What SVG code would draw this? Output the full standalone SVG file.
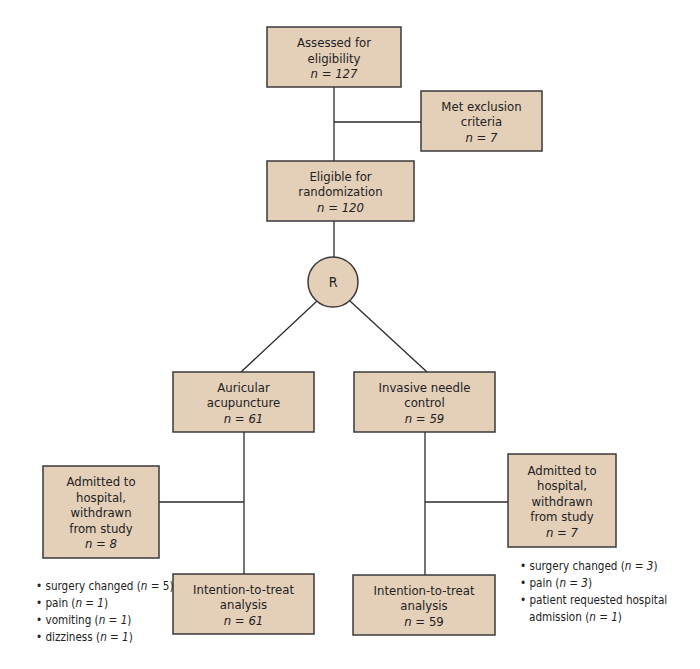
<svg xmlns="http://www.w3.org/2000/svg" width="700" height="669" viewBox="0 0 700 669">
<style>
.box{fill:#e4cfb9;stroke:#3a3a3a;stroke-width:1.5}
.ln{stroke:#2a2a2a;stroke-width:1.3;fill:none}
text{font-family:"DejaVu Sans Condensed","DejaVu Sans",sans-serif;font-size:13px;fill:#222}
.c{text-anchor:middle}
.i{font-style:italic}
.b{font-size:11.6px}
</style>
<rect width="700" height="669" fill="#fff"/>
<g id="connectors">
<line class="ln" x1="334" y1="87" x2="334" y2="161"/>
<line class="ln" x1="334" y1="122" x2="421" y2="122"/>
<line class="ln" x1="334" y1="221" x2="334" y2="257"/>
<line class="ln" x1="317" y1="301" x2="241" y2="372"/>
<line class="ln" x1="350" y1="301" x2="427" y2="372"/>
<line class="ln" x1="244" y1="432" x2="244" y2="574"/>
<line class="ln" x1="159" y1="502" x2="244" y2="502"/>
<line class="ln" x1="425" y1="432" x2="425" y2="575"/>
<line class="ln" x1="425" y1="502" x2="508" y2="502"/>
</g>
<g id="assessed">
<rect class="box" x="267" y="27" width="134" height="60"/>
<text class="c" x="334" y="47">Assessed for</text>
<text class="c" x="334" y="62.5">eligibility</text>
<text class="c i" x="334" y="78">n = 127</text>
</g>
<g id="exclusion">
<rect class="box" x="421" y="91" width="121" height="60"/>
<text class="c" x="481.5" y="110.5">Met exclusion</text>
<text class="c" x="481.5" y="126">criteria</text>
<text class="c i" x="481.5" y="141.5">n = 7</text>
</g>
<g id="eligible">
<rect class="box" x="267" y="161" width="147" height="60"/>
<text class="c" x="340.5" y="180.5">Eligible for</text>
<text class="c" x="340.5" y="196">randomization</text>
<text class="c i" x="340.5" y="211.5">n = 120</text>
</g>
<g id="random">
<circle class="box" cx="333" cy="282" r="25"/>
<text class="c" x="333" y="287" style="font-size:14px">R</text>
</g>
<g id="auricular">
<rect class="box" x="173" y="372" width="141" height="60"/>
<text class="c" x="243.5" y="391.5">Auricular</text>
<text class="c" x="243.5" y="407">acupuncture</text>
<text class="c i" x="243.5" y="422.5">n = 61</text>
</g>
<g id="invasive">
<rect class="box" x="354" y="372" width="141" height="60"/>
<text class="c" x="424.5" y="391.5">Invasive needle</text>
<text class="c" x="424.5" y="407">control</text>
<text class="c i" x="424.5" y="422.5">n = 59</text>
</g>
<g id="admitted-left">
<rect class="box" x="43" y="466" width="116" height="92"/>
<text class="c" x="101" y="486">Admitted to</text>
<text class="c" x="101" y="501.5">hospital,</text>
<text class="c" x="101" y="517">withdrawn</text>
<text class="c" x="101" y="532.5">from study</text>
<text class="c i" x="101" y="548">n = 8</text>
</g>
<g id="admitted-right">
<rect class="box" x="508" y="454" width="108" height="93"/>
<text class="c" x="562" y="474.5">Admitted to</text>
<text class="c" x="562" y="490">hospital,</text>
<text class="c" x="562" y="505.5">withdrawn</text>
<text class="c" x="562" y="521">from study</text>
<text class="c i" x="562" y="536.5">n = 7</text>
</g>
<g id="itt-left">
<rect class="box" x="173" y="574" width="141" height="60"/>
<text class="c" x="243.5" y="593.5">Intention-to-treat</text>
<text class="c" x="243.5" y="609">analysis</text>
<text class="c i" x="243.5" y="624.5">n = 61</text>
</g>
<g id="itt-right">
<rect class="box" x="353" y="575" width="142" height="60"/>
<text class="c" x="424" y="594.5">Intention-to-treat</text>
<text class="c" x="424" y="610">analysis</text>
<text class="c" x="424" y="625.5"><tspan class="i">n</tspan> = 59</text>
</g>
<g id="reasons-left">
<text class="b" x="36" y="590">• surgery changed (<tspan class="i">n</tspan> = 5)</text>
<text class="b" x="36" y="607">• pain (<tspan class="i">n = 1</tspan>)</text>
<text class="b" x="36" y="624">• vomiting (<tspan class="i">n = 1</tspan>)</text>
<text class="b" x="36" y="641">• dizziness (<tspan class="i">n = 1</tspan>)</text>
</g>
<g id="reasons-right">
<text class="b" x="520" y="570">• surgery changed (<tspan class="i">n = 3</tspan>)</text>
<text class="b" x="520" y="587">• pain (<tspan class="i">n = 3</tspan>)</text>
<text class="b" x="520" y="604">• patient requested hospital</text>
<text class="b" x="529" y="621">admission (<tspan class="i">n = 1</tspan>)</text>
</g>
</svg>
